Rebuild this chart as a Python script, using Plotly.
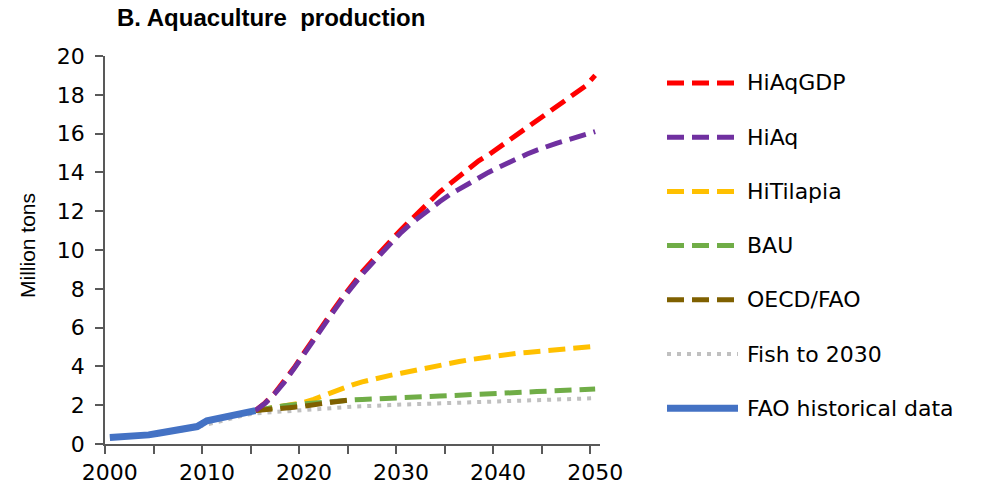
import plotly.graph_objects as go

# ---- data (million tons) ----
hist_years = list(range(2000, 2016))
hist_values = [0.33, 0.35, 0.38, 0.42, 0.47, 0.55, 0.63, 0.72, 0.80, 0.90,
               1.20, 1.30, 1.42, 1.53, 1.63, 1.72]

proj_years = list(range(2015, 2051))
hiaqgdp = [1.72, 2.12, 2.63, 3.24, 3.94, 4.70, 5.45, 6.16, 6.88, 7.58,
           8.25, 8.87, 9.43, 10.0, 10.55, 11.05, 11.55, 12.05, 12.5, 13.0,
           13.4, 13.8, 14.2, 14.6, 14.9, 15.25, 15.6, 15.95, 16.3, 16.65,
           17.0, 17.35, 17.7, 18.05, 18.45, 19.0]
hiaq = [1.72, 2.10, 2.60, 3.20, 3.90, 4.65, 5.40, 6.10, 6.80, 7.50,
        8.15, 8.75, 9.30, 9.85, 10.4, 10.9, 11.35, 11.75, 12.15, 12.5,
        12.85, 13.15, 13.45, 13.75, 14.0, 14.25, 14.5, 14.7, 14.95, 15.15,
        15.35, 15.5, 15.65, 15.8, 15.95, 16.1]
hitilapia = [1.72, 1.80, 1.88, 1.94, 2.02, 2.14, 2.30, 2.50, 2.68, 2.88,
             3.05, 3.20, 3.33, 3.45, 3.55, 3.65, 3.76, 3.87, 3.96, 4.05,
             4.15, 4.25, 4.34, 4.42, 4.49, 4.56, 4.62, 4.68, 4.72, 4.76,
             4.80, 4.84, 4.88, 4.93, 4.98, 5.03]
bau = [1.72, 1.82, 1.90, 1.97, 2.03, 2.08, 2.12, 2.16, 2.20, 2.23,
       2.27, 2.30, 2.33, 2.35, 2.37, 2.39, 2.41, 2.43, 2.45, 2.47,
       2.50, 2.52, 2.54, 2.56, 2.58, 2.61, 2.63, 2.65, 2.68, 2.70,
       2.73, 2.75, 2.77, 2.79, 2.81, 2.83]

oecd_years = list(range(2015, 2026))
oecd_fao = [1.72, 1.75, 1.79, 1.85, 1.90, 1.95, 2.02, 2.08, 2.15, 2.22, 2.30]

fish2030_years = [2000, 2005, 2008, 2010, 2012, 2014, 2015, 2017, 2020,
                  2025, 2030, 2035, 2040, 2045, 2050]
fish2030 = [0.33, 0.52, 0.75, 1.00, 1.30, 1.50, 1.58, 1.65, 1.78,
            1.92, 2.03, 2.12, 2.21, 2.29, 2.36]

x_labels = [2000, 2010, 2020, 2030, 2040, 2050]
y_ticks = list(range(0, 21, 2))

# ---- styles ----
DASH = "17px,8px"
styles = {
    "HiAqGDP": dict(color="#ff0000", width=5, dash=DASH),
    "HiAq": dict(color="#7030a0", width=5, dash=DASH),
    "HiTilapia": dict(color="#ffc000", width=5, dash=DASH),
    "BAU": dict(color="#70ad47", width=5, dash=DASH),
    "OECD/FAO": dict(color="#7f6000", width=5, dash=DASH),
    "Fish to 2030": dict(color="#c0c0c0", width=4, dash="4px,6px"),
    "FAO historical data": dict(color="#4472c4", width=7, dash="solid"),
}
series = {
    "HiAqGDP": (proj_years, hiaqgdp),
    "HiAq": (proj_years, hiaq),
    "HiTilapia": (proj_years, hitilapia),
    "BAU": (proj_years, bau),
    "OECD/FAO": (oecd_years, oecd_fao),
    "Fish to 2030": (fish2030_years, fish2030),
    "FAO historical data": (hist_years, hist_values),
}
legend_order = ["HiAqGDP", "HiAq", "HiTilapia", "BAU", "OECD/FAO",
                "Fish to 2030", "FAO historical data"]
draw_order = ["Fish to 2030", "HiTilapia", "BAU", "OECD/FAO", "HiAqGDP",
              "HiAq", "FAO historical data"]

FONT = "DejaVu Sans, Verdana, sans-serif"
TITLE_FONT = "Liberation Sans, Arial, sans-serif"

fig = go.Figure()
for name in draw_order:
    xs, ys = series[name]
    fig.add_trace(go.Scatter(x=xs, y=ys, mode="lines", name=name,
                             line=styles[name], showlegend=False,
                             hoverinfo="x+y+name"))

# ---- plot-area geometry (pixels) ----
W, H = 987, 485
L, R, T, B = 105, 600, 56, 444


def px_x(p):
    return (p - L) / (R - L)


def px_y(p):
    return (B - p) / (B - T)


# ---- legend drawn at the right ----
shapes = []
annotations = []
leg_y0, leg_step = 83, 54.2
for i, name in enumerate(legend_order):
    yy = px_y(leg_y0 + i * leg_step)
    st = styles[name]
    shapes.append(dict(type="line", xref="paper", yref="paper",
                       x0=px_x(667), x1=px_x(738), y0=yy, y1=yy,
                       line=dict(color=st["color"], width=st["width"],
                                 dash=st["dash"])))
    annotations.append(dict(xref="paper", yref="paper", x=px_x(745), y=yy,
                            text=name, showarrow=False, xanchor="left",
                            yanchor="middle",
                            font=dict(family=FONT, size=22, color="#000000")))

# y-axis title
annotations.append(dict(xref="paper", yref="paper", x=px_x(27), y=px_y(246),
                        text="Million tons", textangle=-90, showarrow=False,
                        xanchor="center", yanchor="middle",
                        font=dict(family=TITLE_FONT, size=21,
                                  color="#000000")))

fig.update_layout(
    width=W, height=H,
    margin=dict(l=L, r=W - R, t=T, b=H - B, pad=0, autoexpand=False),
    paper_bgcolor="white", plot_bgcolor="white",
    font=dict(family=FONT, size=22, color="#000000"),
    title=dict(text="<b>B. Aquaculture  production</b>",
               xref="container", yref="container",
               x=117 / W, y=1 - 18 / H, xanchor="left", yanchor="middle",
               font=dict(family=TITLE_FONT, size=24, color="#000000")),
    shapes=shapes,
    annotations=annotations,
    showlegend=False,
)

fig.update_xaxes(
    range=[1999.5, 2050.5], automargin=False,
    tickmode="array", tickvals=x_labels, ticktext=[str(v) for v in x_labels],
    ticks="", showgrid=False, zeroline=False,
    showline=True, linecolor="#595959", linewidth=1.5,
    ticklabelstandoff=8,
    tickfont=dict(family=FONT, size=22, color="#000000"),
    minor=dict(tickmode="array",
               tickvals=[1999.5 + 5 * k for k in range(11)],
               ticks="outside", ticklen=8, tickwidth=1.5,
               tickcolor="#595959", showgrid=False),
)
fig.update_yaxes(
    range=[0, 20], automargin=False,
    tickmode="array", tickvals=y_ticks,
    ticks="outside", ticklen=8, tickwidth=1.5, tickcolor="#595959",
    showgrid=False, zeroline=False,
    showline=True, linecolor="#595959", linewidth=1.5,
    ticklabelstandoff=6,
    tickfont=dict(family=FONT, size=22, color="#000000"),
)

fig.write_html("out.html")
